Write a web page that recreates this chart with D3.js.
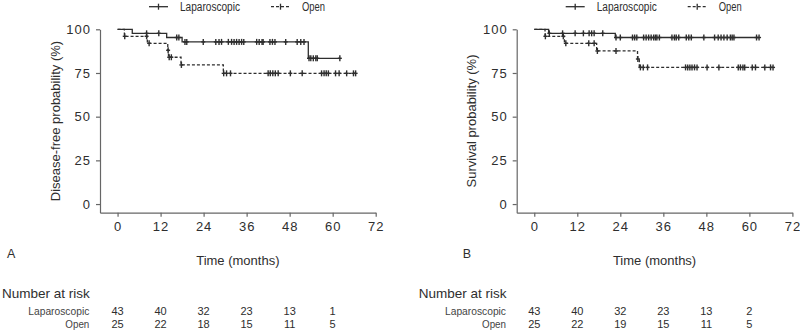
<!DOCTYPE html>
<html>
  <head>
    <meta charset="UTF-8" />
    <script src="https://cdn.jsdelivr.net/npm/d3@7"></script>
    <style>
      body { margin: 0; background: #fff; }
      svg { display: block; font-family: 'Liberation Sans', Arial, sans-serif; }
    </style>
  </head>
  <body>
    <svg></svg>
    <script>
      // 1. data
      const monthTicks = [0, 12, 24, 36, 48, 60, 72];
      const probTicks = [0, 25, 50, 75, 100];
      const riskTimes = [0, 12, 24, 36, 48, 60];

      // A: disease-free
      const lapDfsSteps = [[0, 100], [4.1, 97.7], [13.7, 95.3], [18.0, 92.8], [53.2, 83.4]];
      const lapDfsEnd = 62.0;
      const lapDfsCensor = [8.1, 11.5, 16.5, 17.1, 18.8, 19.3, 23.9, 27.4, 28.3, 29.0, 30.9, 31.8, 32.5, 33.2, 33.9, 34.6, 35.2, 38.8, 39.5, 40.3, 40.6, 42.5, 43.2, 43.9, 46.9, 50.1, 51.1, 52.0, 53.4, 53.9, 54.6, 55.3, 55.7, 62.0];
      const openDfsSteps = [[0, 100], [1.9, 96], [8.3, 92], [14.0, 88], [14.2, 84], [17.7, 79.6], [29.5, 74.8]];
      const openDfsEnd = 66.4;
      const openDfsCensor = [2.0, 8.1, 8.8, 14.1, 14.4, 15.0, 17.8, 29.6, 30.4, 31.5, 42.0, 42.6, 43.3, 44.0, 44.8, 48.2, 51.5, 56.9, 57.6, 58.2, 58.8, 60.8, 61.8, 63.9, 65.8, 66.4];
      const lapRiskA = [43, 40, 32, 23, 13, 1];
      const openRiskA = [25, 22, 18, 15, 11, 5];

      // B: survival
      const lapOsSteps = [[0, 100], [4.0, 97.7], [22.6, 95.3]];
      const lapOsEnd = 62.7;
      const lapOsCensor = [4.2, 7.9, 11.4, 13.7, 15.3, 16.0, 16.7, 19.1, 22.8, 24.0, 27.4, 28.0, 28.6, 30.5, 31.2, 31.9, 32.6, 33.3, 33.8, 34.2, 34.9, 38.4, 39.1, 39.6, 40.3, 42.4, 43.1, 43.8, 47.3, 50.3, 51.3, 52.1, 52.9, 53.8, 54.7, 55.2, 55.7, 62.0, 62.7];
      const openOsSteps = [[0, 100], [3.0, 96], [8.4, 92], [17.4, 87.6], [28.8, 83.0], [29.3, 78.2]];
      const openOsEnd = 66.6;
      const openOsCensor = [3.1, 8.1, 8.8, 15.2, 16.7, 17.6, 22.8, 28.9, 29.6, 30.4, 31.6, 42.2, 42.8, 43.4, 44.0, 44.7, 45.4, 48.2, 51.5, 56.9, 57.5, 58.2, 58.7, 60.8, 61.7, 64.3, 65.9, 66.6];
      const lapRiskB = [43, 40, 32, 23, 13, 2];
      const openRiskB = [25, 22, 19, 15, 11, 5];

      const panels = [
        { dx: 0, letter: 'A', ylabel: 'Disease-free probability (%)', lap: [lapDfsSteps, lapDfsEnd, lapDfsCensor], open: [openDfsSteps, openDfsEnd, openDfsCensor], risk: [lapRiskA, openRiskA] },
        { dx: 416.7, letter: 'B', ylabel: 'Survival probability (%)', lap: [lapOsSteps, lapOsEnd, lapOsCensor], open: [openOsSteps, openOsEnd, openOsCensor], risk: [lapRiskB, openRiskB] }
      ];

      // 2. svg
      const width = 800;
      const height = 332;
      const ink = '#2e2e2e';
      const axisColor = '#666';
      const svg = d3.select('svg').attr('width', width).attr('height', height);

      const x = d3.scaleLinear().domain([-4.9, 72]).range([100, 375.7]);
      const y = d3.scaleLinear().domain([-4.95, 100]).range([212.7, 29.3]);
      const line = d3.line().curve(d3.curveStepAfter).x((d) => x(d[0])).y((d) => y(d[1]));

      function valueAt(steps, t) {
        let v = steps[0][1];
        for (const s of steps) if (s[0] <= t) v = s[1];
        return v;
      }

      function drawCurve(g, [steps, end, censor], dash) {
        const pts = steps.concat([[end, steps[steps.length - 1][1]]]);
        g.append('path')
          .attr('d', line(pts))
          .attr('fill', 'none')
          .attr('stroke', ink)
          .attr('stroke-width', 1.3)
          .attr('stroke-dasharray', dash);
        g.append('g')
          .selectAll('g')
          .data(censor)
          .join('g')
          .attr('transform', (t) => `translate(${x(t)},${y(valueAt(steps, t))})`)
          .call((m) => {
            m.append('line').attr('y1', -3).attr('y2', 3);
            m.append('line').attr('x1', -2).attr('x2', 2);
          })
          .selectAll('line')
          .attr('stroke', ink)
          .attr('stroke-width', 1.4);
      }

      function legendItem(g, x0, label, dash) {
        g.append('line')
          .attr('x1', x0).attr('x2', x0 + 19)
          .attr('y1', 6.7).attr('y2', 6.7)
          .attr('stroke', ink).attr('stroke-width', 1.3)
          .attr('stroke-dasharray', dash);
        g.append('line')
          .attr('x1', x0 + 9.5).attr('x2', x0 + 9.5)
          .attr('y1', 3.7).attr('y2', 9.7)
          .attr('stroke', ink).attr('stroke-width', 1.3);
        g.append('text')
          .attr('x', x0 + 31).attr('y', 10.8)
          .attr('font-size', 12.5).attr('fill', ink)
          .attr('textLength', label.length > 5 ? 60 : 23)
          .attr('lengthAdjust', 'spacingAndGlyphs')
          .text(label);
      }

      // 3. panels
      panels.forEach((p) => {
        const g = svg.append('g').attr('transform', `translate(${p.dx},0)`);

        const yAxis = g.append('g')
          .attr('transform', `translate(${x(-4.9)},0)`)
          .call(d3.axisLeft(y).tickValues(probTicks).tickSize(4).tickSizeOuter(0).tickPadding(5));
        const xAxis = g.append('g')
          .attr('transform', `translate(0,${y(-4.95)})`)
          .call(d3.axisBottom(x).tickValues(monthTicks).tickSize(4).tickSizeOuter(0).tickPadding(5));
        [xAxis, yAxis].forEach((a) => {
          a.select('.domain').attr('stroke', axisColor).attr('stroke-width', 1.2);
          a.selectAll('.tick line').attr('stroke', axisColor).attr('stroke-width', 1.2);
          a.selectAll('.tick text')
            .attr('fill', ink)
            .attr('font-size', 13)
            .attr('letter-spacing', 1)
            .attr('font-family', "'Liberation Sans', Arial, sans-serif");
        });

        g.append('text')
          .attr('transform', `translate(55,121) rotate(-90)`)
          .attr('text-anchor', 'middle')
          .attr('dy', '0.35em')
          .attr('font-size', 13)
          .attr('fill', ink)
          .text(p.ylabel);

        drawCurve(g, p.lap, null);
        drawCurve(g, p.open, '3,2');

        legendItem(g, 149, 'Laparoscopic', null);
        legendItem(g, 271, 'Open', '3,2');

        g.append('text')
          .attr('x', p.dx === 0 ? 7 : 46).attr('y', 258)
          .attr('font-size', 12.5).attr('fill', ink)
          .text(p.letter);
        g.append('text')
          .attr('x', (x(-4.9) + x(72)) / 2).attr('y', 265)
          .attr('text-anchor', 'middle')
          .attr('font-size', 13).attr('fill', ink)
          .text('Time (months)');

        // 4. number at risk
        g.append('text')
          .attr('x', 2).attr('y', 298)
          .attr('font-size', 13.5).attr('fill', ink)
          .text('Number at risk');
        const rows = [['Laparoscopic', p.risk[0], 315], ['Open', p.risk[1], 327.7]];
        rows.forEach(([name, vals, yy]) => {
          g.append('text')
            .attr('x', 89.3).attr('y', yy)
            .attr('text-anchor', 'end')
            .attr('font-size', 11.5).attr('fill', '#444')
            .attr('textLength', name.length > 5 ? 61 : 24)
            .attr('lengthAdjust', 'spacingAndGlyphs')
            .text(name);
          g.append('g')
            .selectAll('text')
            .data(vals)
            .join('text')
            .attr('x', (d, i) => x(riskTimes[i]))
            .attr('y', yy)
            .attr('text-anchor', 'middle')
            .attr('font-size', 11)
            .attr('fill', ink)
            .text((d) => d);
        });
      });
    </script>
  </body>
</html>
